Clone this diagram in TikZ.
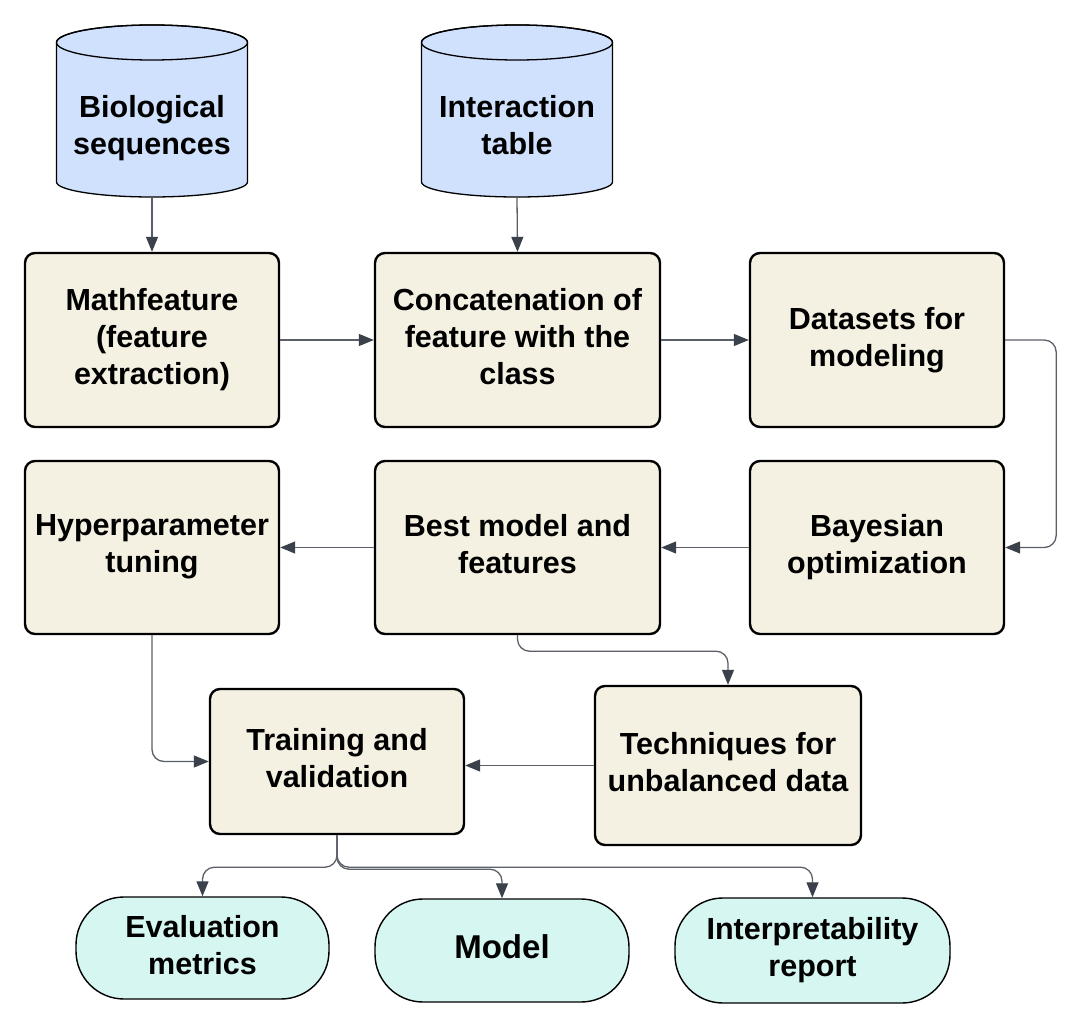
\documentclass[tikz,border=0pt]{standalone}
\usepackage{fontspec}
\setmainfont{Liberation Sans}
\usetikzlibrary{arrows.meta}
\definecolor{cylfill}{HTML}{CFE1FC}
\definecolor{boxfill}{HTML}{F5F1E2}
\definecolor{endfill}{HTML}{D5F6F1}
\definecolor{linec}{HTML}{5B6068}
\definecolor{tipc}{HTML}{3A414A}
\begin{document}
\begin{tikzpicture}[x=1pt,y=-1pt,
  txt/.style={font=\fontsize{30.5}{37}\selectfont\bfseries, align=center, inner sep=0pt, text depth=7pt},
  procbox/.style={txt, draw=black, line width=2.4pt, fill=boxfill, rounded corners=10pt},
  endbox/.style={txt, draw=black, line width=1.4pt, fill=endfill, rounded corners=48pt},
  conn/.style={draw=linec, line width=1.3pt, rounded corners=12pt,
     -{Triangle[length=15pt,width=12pt,color=tipc]}}
]
\useasboundingbox (0,0) rectangle (1074,1027);
\fill[white] (0,0) rectangle (1074,1027);

% cylinders
\foreach \cx in {152,517} {
  \filldraw[fill=cylfill, draw=black, line width=1.3pt]
    (\cx-95.5,42.5) -- (\cx-95.5,182)
    arc[start angle=180,end angle=360,x radius=95.5pt,y radius=15pt]
    -- (\cx+95.5,42.5)
    arc[start angle=0,end angle=180,x radius=95.5pt,y radius=17.5pt] -- cycle;
  \draw[black, line width=1.3pt] (\cx,42.5) ellipse[x radius=95.5pt,y radius=17.5pt];
}
\node[minimum width=191pt, minimum height=172pt, inner sep=0pt] (bio) at (152,111) {};
\node[txt] at (152,128.5) {Biological\\sequences};
\node[minimum width=191pt, minimum height=172pt, inner sep=0pt] (inter) at (517,111) {};
\node[txt] at (517,128.5) {Interaction\\table};

% process boxes
\node[procbox, minimum width=254pt, minimum height=174pt] (math) at (152,340) {Mathfeature\\(feature\\extraction)};
\node[procbox, minimum width=285pt, minimum height=174pt] (concat) at (517.5,340) {Concatenation of\\feature with the\\class};
\node[procbox, minimum width=254pt, minimum height=174pt] (data) at (877,340) {Datasets for\\modeling};
\node[procbox, minimum width=254pt, minimum height=173pt] (hyp) at (152,547.5) {Hyperparameter\\tuning};
\node[procbox, minimum width=285pt, minimum height=173pt] (best) at (517.5,547.5) {Best model and\\features};
\node[procbox, minimum width=254pt, minimum height=173pt] (bay) at (877,547.5) {Bayesian\\optimization};
\node[procbox, minimum width=254pt, minimum height=145pt] (train) at (337,761.5) {Training and\\validation};
\node[procbox, minimum width=266pt, minimum height=159pt] (tech) at (728,765.5) {Techniques for\\unbalanced data};

% terminal nodes
\node[endbox, minimum width=253pt, minimum height=102pt] (eval) at (202.5,948) {Evaluation\\metrics};
\node[endbox, minimum width=254pt, minimum height=103pt, font=\fontsize{33}{40}\selectfont\bfseries] (model) at (502,950.5) {Model};
\node[endbox, minimum width=275pt, minimum height=105pt] (interp) at (812.5,950.5) {Interpretability\\report};

% connectors
\draw[conn] (bio.south) -- (math.north);
\draw[conn] (inter.south) -- (concat.north);
\draw[conn] (math.east) -- (concat.west);
\draw[conn] (concat.east) -- (data.west);
\draw[conn] (data.east) -- ++(51,0) |- (bay.east);
\draw[conn] (bay.west) -- (best.east);
\draw[conn] (best.west) -- (hyp.east);
\draw[conn] (best.south) -- ++(0,16) -| (tech.north);
\draw[conn] (hyp.south) |- (train.west);
\draw[conn] (tech.west) -- (tech.west -| train.east);
\draw[conn] (train.south) -- ++(0,32) -| (eval.north);
\draw[conn] (train.south) -- ++(0,34) -| (model.north);
\draw[conn] (train.south) -- ++(0,32) -| (interp.north);
\end{tikzpicture}
\end{document}
